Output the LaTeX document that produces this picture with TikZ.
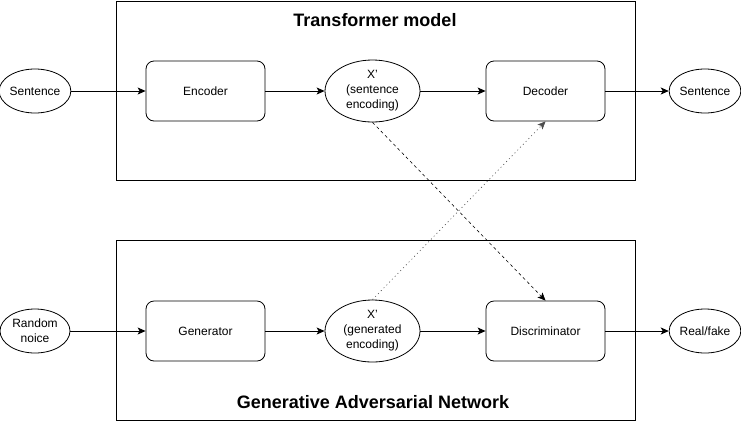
\documentclass[tikz,border=0pt]{standalone}
\usepackage{fontspec}
\setmainfont{Liberation Sans}
\usetikzlibrary{arrows.meta,shapes.geometric}
\begin{document}
\begin{tikzpicture}[x=1pt,y=-1pt,
  every node/.style={font=\fontsize{12}{15}\selectfont, align=center, inner sep=0pt},
  rbox/.style={draw, rounded corners=8pt, minimum width=119pt, minimum height=60pt, line width=0.8pt},
  ell/.style={draw, ellipse, line width=0.8pt},
  frame/.style={draw, line width=0.8pt},
  title/.style={font=\fontsize{18}{21}\selectfont\bfseries},
  arr/.style={-{Stealth[length=8pt,width=7pt,inset=2pt]}, line width=0.8pt},
  dasharr/.style={-{Stealth[length=8pt,width=7pt,inset=2pt]}, line width=0.6pt, dash pattern=on 3pt off 3pt},
  dotarr/.style={-{Stealth[length=8pt,width=7pt,inset=2pt]}, line width=0.6pt, dash pattern=on 1pt off 3pt, black!70}
]
\useasboundingbox (0,0) rectangle (741,421);
% frames
\node[frame, minimum width=519pt, minimum height=179pt] (tbox) at (375.5,90.5) {};
\node[frame, minimum width=519pt, minimum height=180pt] (gbox) at (375.5,330) {};
\node[title] (ttitle) at (375,20) {Transformer model};
\node[title] (gtitle) at (373,402) {Generative Adversarial Network};
% top row
\node[ell, minimum width=70pt, minimum height=44pt] (sin) at (35,91) {Sentence};
\node[rbox] (enc) at (205.5,91) {Encoder};
\node[ell, minimum width=95pt, minimum height=62pt] (xs) at (372.5,91) {X'\\(sentence\\encoding)};
\node[rbox] (dec) at (545.5,91) {Decoder};
\node[ell, minimum width=70pt, minimum height=44pt] (sout) at (705,91) {Sentence};
% bottom row
\node[ell, minimum width=70pt, minimum height=44pt] (noise) at (35,331) {Random\\noice};
\node[rbox] (gen) at (205.5,331) {Generator};
\node[ell, minimum width=95pt, minimum height=62pt] (xg) at (372.5,331) {X'\\(generated\\encoding)};
\node[rbox] (disc) at (545.5,331) {Discriminator};
\node[ell, minimum width=70pt, minimum height=44pt] (rf) at (705,331) {Real/fake};
% arrows
\draw[arr] (sin) -- (enc);
\draw[arr] (enc) -- (xs);
\draw[arr] (xs) -- (dec);
\draw[arr] (dec) -- (sout);
\draw[arr] (noise) -- (gen);
\draw[arr] (gen) -- (xg);
\draw[arr] (xg) -- (disc);
\draw[arr] (disc) -- (rf);
\draw[dasharr] (xs.south) -- (disc.north);
\draw[dotarr] (xg.north) -- (dec.south);
\end{tikzpicture}
\end{document}
